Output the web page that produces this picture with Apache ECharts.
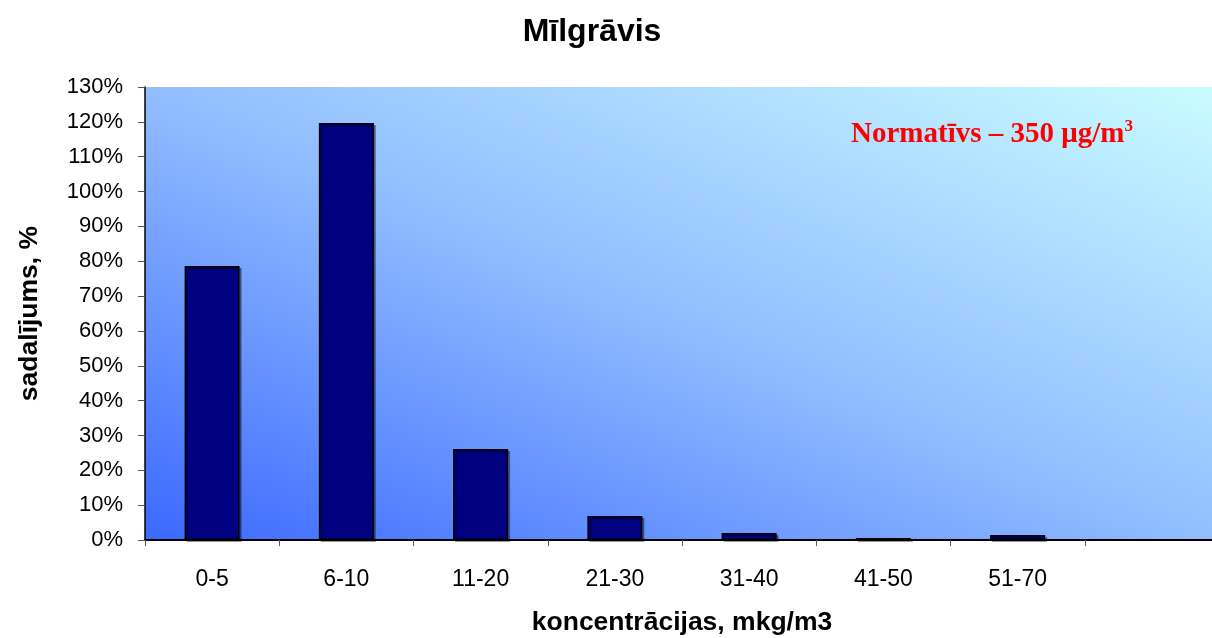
<!DOCTYPE html>
<html><head><meta charset="utf-8">
<script src="https://cdn.jsdelivr.net/npm/echarts@6/dist/echarts.min.js"></script>
<style>html,body{margin:0;padding:0;background:#fff}#c{width:1212px;height:638px}</style>
</head><body><div id="c"></div>
<script>
const categories = ['0-5','6-10','11-20','21-30','31-40','41-50','51-70',''];
const values = [78.6, 119.7, 26.1, 6.9, 2.0, 0.6, 1.4, null];
const yTicks = {min: 0, max: 130, interval: 10};
const titleText = 'Mīlgrāvis';
const yName = 'sadalījums, %';
const xName = 'koncentrācijas, mkg/m3';

const chart = echarts.init(document.getElementById('c'), null, {renderer: 'canvas'});
chart.setOption({
  animation: false,
  title: {text: titleText, left: 587, top: 11, textAlign: 'center',
    textStyle: {fontFamily: 'Liberation Sans', fontWeight: 'bold', fontSize: 32, color: '#000'}},
  grid: {left: 145, top: 87, width: 1074, height: 453, show: true, borderWidth: 0,
    outerBoundsMode: 'none', containLabel: false,
    backgroundColor: {type: 'linear', x: 0.348, y: 1.349, x2: 0.651, y2: -0.349, colorStops: [
      {offset: 0, color: '#3B68FF'}, {offset: 0.5, color: '#92BEFF'}, {offset: 1, color: '#CAFCFF'}]}},
  graphic: [
    {type: 'text', left: 851, top: 118, style: {
      text: '{a|Normatīvs – 350 μg/m}{s|3}', rich: {
        a: {fontFamily: 'Liberation Serif', fontWeight: 'bold', fontSize: 29, fill: '#FF0000', color: '#FF0000'},
        s: {fontFamily: 'Liberation Serif', fontWeight: 'bold', fontSize: 17, fill: '#FF0000', color: '#FF0000', verticalAlign: 'top', padding: [0,0,16,0]}}}}
  ],
  xAxis: {type: 'category', data: categories,
    axisLine: {lineStyle: {color: '#000', width: 2}},
    axisTick: {show: true, alignWithLabel: false, length: 6, lineStyle: {color: '#555'}},
    axisLabel: {fontFamily: 'Liberation Sans', fontSize: 23, color: '#000', margin: 28},
    name: xName, nameLocation: 'middle', nameGap: 69,
    nameTextStyle: {fontFamily: 'Liberation Sans', fontWeight: 'bold', fontSize: 26.5, color: '#000'}},
  yAxis: {type: 'value', min: yTicks.min, max: yTicks.max, interval: yTicks.interval,
    axisLine: {show: true, lineStyle: {color: '#000', width: 1.5}},
    axisTick: {show: true, length: 7, lineStyle: {color: '#555'}},
    splitLine: {show: false},
    axisLabel: {formatter: '{value}%', fontFamily: 'Liberation Sans', fontSize: 22, color: '#000', margin: 22},
    name: yName, nameLocation: 'middle', nameGap: 102, nameRotate: 90,
    nameTextStyle: {fontFamily: 'Liberation Sans', fontWeight: 'bold', fontSize: 26.5, color: '#000'}},
  series: [{type: 'bar', data: values, barWidth: '41%',
    itemStyle: {color: '#000080', borderColor: '#000', borderWidth: 1.5,
      shadowColor: 'rgba(0,0,0,0.35)', shadowOffsetX: 2, shadowOffsetY: 2, shadowBlur: 0}}]
});
</script></body></html>
